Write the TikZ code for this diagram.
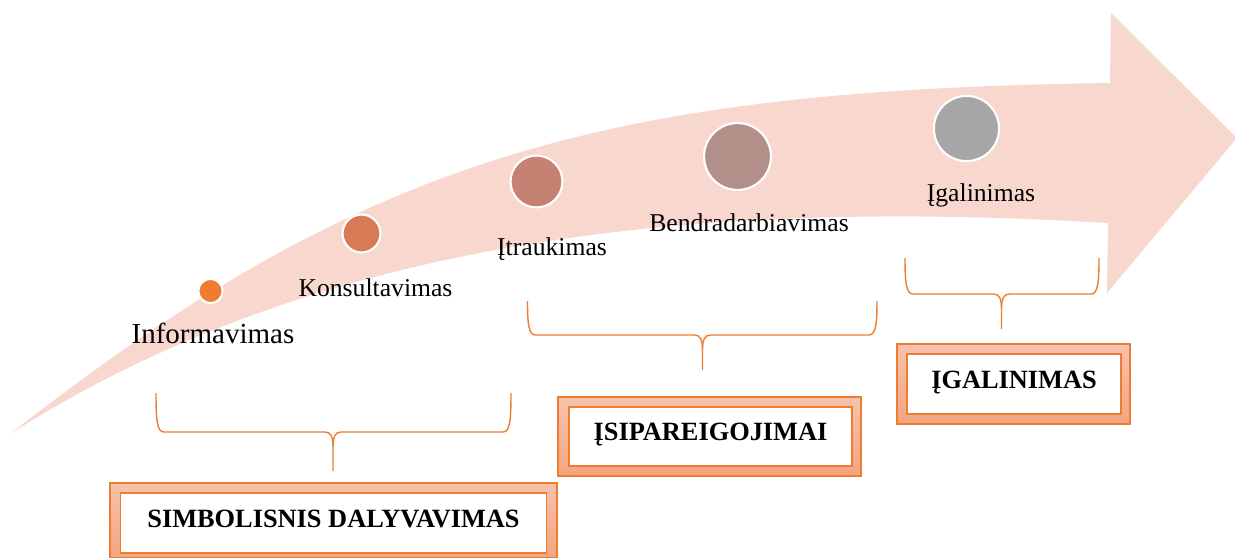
\documentclass[tikz,border=0pt]{standalone}
\usepackage{fontspec}
\setmainfont{Liberation Serif}
\usepackage{xcolor}
\usepackage{tikz}
\usetikzlibrary{positioning, calc}
\definecolor{arrowPeach}{RGB}{248, 216, 206}
\definecolor{accentOrange}{RGB}{237, 125, 49}
\definecolor{dotCopper}{RGB}{214, 123, 85}
\definecolor{dotRose}{RGB}{197, 130, 114}
\definecolor{dotMauve}{RGB}{179, 143, 137}
\definecolor{dotGrey}{RGB}{166, 166, 166}
\definecolor{bandLight}{RGB}{247, 194, 172}
\definecolor{bandDark}{RGB}{244, 164, 128}

% brace: left, middle, right, top, bar, tip
\newcommand{\stagebrace}[6]{%
  \draw[accentOrange, line width=0.8pt] (#1,#4) .. controls (#1,{#5-12}) and ({#1+1},#5) .. ({#1+8},#5)
    -- ({#2-8},#5) .. controls ({#2-2},#5) and (#2,{#5+5}) .. (#2,{#5+15}) -- (#2,#6);
  \draw[accentOrange, line width=0.8pt] (#3,#4) .. controls (#3,{#5-12}) and ({#3-1},#5) .. ({#3-8},#5)
    -- ({#2+8},#5) .. controls ({#2+2},#5) and (#2,{#5+5}) .. (#2,{#5+15});
}

\begin{document}
\begin{tikzpicture}[x=0.02cm, y=-0.02cm,
    stagedot/.style 2 args={circle, fill=#1, draw=white, line width=1.2pt, minimum size=#2, inner sep=0pt},
    stagelabel/.style={font=\fontsize{14.6}{17}\selectfont, anchor=base, inner sep=0pt},
    phasebox/.style={draw=accentOrange, line width=0.8pt, fill=white, inner sep=0pt,
      font=\fontsize{15}{18}\selectfont\bfseries, text height=10.2pt, text depth=5pt}]
    \useasboundingbox (0,0) rectangle (1235,558);
    % Curved arrow
    \fill[arrowPeach] (10,434) .. controls (360,160) and (600,90) .. (1110,83) -- (1111,13) -- (1237,138)
      -- (1107,293) -- (1108,223) .. controls (720,200) and (330,230) .. (10,434) -- cycle;
    % Dots along the arrow
    \node[stagedot={accentOrange}{0.486cm}] (dotInfo) at (210.5,291) {};
    \node[stagedot={dotCopper}{0.758cm}] (dotKons) at (361.5,233.5) {};
    \node[stagedot={dotRose}{1.038cm}] (dotItr) at (536.5,181.5) {};
    \node[stagedot={dotMauve}{1.338cm}] (dotBendr) at (737.5,156.5) {};
    \node[stagedot={dotGrey}{1.304cm}] (dotIgal) at (966.5,128.5) {};
    % Stage labels
    \node[stagelabel, font=\fontsize{16.5}{19}\selectfont] (lblInfo) at (213,343) {Informavimas};
    \node[stagelabel] (lblKons) at (375.5,296.5) {Konsultavimas};
    \node[stagelabel] (lblItr) at (552,255) {Įtraukimas};
    \node[stagelabel] (lblBendr) at (749,231.5) {Bendradarbiavimas};
    \node[stagelabel] (lblIgal) at (981,201.5) {Įgalinimas};
    % Braces
    \stagebrace{156}{333}{511}{393}{432}{471}
    \stagebrace{527.5}{702.5}{877}{301}{335}{370}
    \stagebrace{905}{1001.5}{1099}{258}{294}{329}
    % Phase boxes
    \draw[accentOrange, line width=0.8pt, top color=bandLight, bottom color=bandDark] (110,483) rectangle (557,557.5);
    \node[phasebox, minimum width=8.52cm, minimum height=1.2cm] (boxSimb) at (333.5,523) {SIMBOLISNIS DALYVAVIMAS};
    \draw[accentOrange, line width=0.8pt, top color=bandLight, bottom color=bandDark] (558,397) rectangle (861,476);
    \node[phasebox, minimum width=5.66cm, minimum height=1.18cm] (boxIsip) at (710.5,436.3) {ĮSIPAREIGOJIMAI};
    \draw[accentOrange, line width=0.8pt, top color=bandLight, bottom color=bandDark] (897,344) rectangle (1130,424);
    \node[phasebox, minimum width=4.28cm, minimum height=1.2cm] (boxIgal) at (1014,384) {ĮGALINIMAS};
\end{tikzpicture}
\end{document}
